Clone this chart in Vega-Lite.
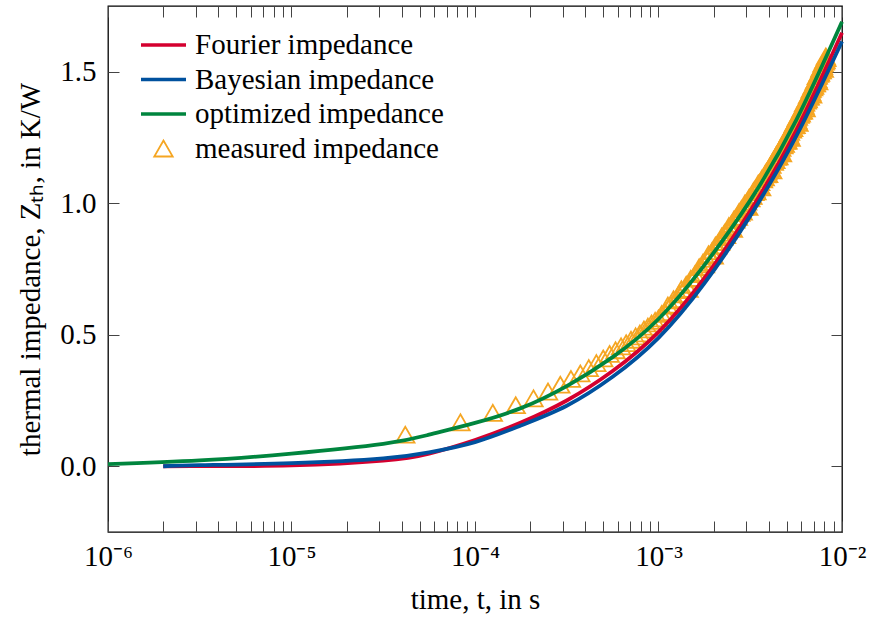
{
  "$schema": "https://vega.github.io/schema/vega-lite/v6.json",
  "width": 734,
  "height": 526,
  "autosize": {"type": "none"},
  "padding": {"left": 108, "top": 6, "right": 29, "bottom": 87},
  "background": "white",
  "config": {
    "view": {"stroke": "#000", "strokeWidth": 1.3},
    "font": "Liberation Serif",
    "legend": {"labelLimit": 500}
  },
  "datasets": {
    "fits": [
      {"t": 2e-6, "z": 0.0, "series": "Fourier impedance"},
      {"t": 3.162e-6, "z": 0.0005, "series": "Fourier impedance"},
      {"t": 1e-5, "z": 0.003, "series": "Fourier impedance"},
      {"t": 3.162e-5, "z": 0.021, "series": "Fourier impedance"},
      {"t": 5.623e-5, "z": 0.048, "series": "Fourier impedance"},
      {"t": 1e-4, "z": 0.1, "series": "Fourier impedance"},
      {"t": 1.778e-4, "z": 0.166, "series": "Fourier impedance"},
      {"t": 3.162e-4, "z": 0.25, "series": "Fourier impedance"},
      {"t": 5.623e-4, "z": 0.362, "series": "Fourier impedance"},
      {"t": 1e-3, "z": 0.51, "series": "Fourier impedance"},
      {"t": 1.778e-3, "z": 0.715, "series": "Fourier impedance"},
      {"t": 3.162e-3, "z": 0.971, "series": "Fourier impedance"},
      {"t": 5.623e-3, "z": 1.276, "series": "Fourier impedance"},
      {"t": 1e-2, "z": 1.648, "series": "Fourier impedance"},
      {"t": 2e-6, "z": 0.0, "series": "Bayesian impedance"},
      {"t": 3.162e-6, "z": 0.004, "series": "Bayesian impedance"},
      {"t": 1e-5, "z": 0.012, "series": "Bayesian impedance"},
      {"t": 3.162e-5, "z": 0.03, "series": "Bayesian impedance"},
      {"t": 5.623e-5, "z": 0.053, "series": "Bayesian impedance"},
      {"t": 1e-4, "z": 0.092, "series": "Bayesian impedance"},
      {"t": 1.778e-4, "z": 0.155, "series": "Bayesian impedance"},
      {"t": 3.162e-4, "z": 0.23, "series": "Bayesian impedance"},
      {"t": 5.623e-4, "z": 0.34, "series": "Bayesian impedance"},
      {"t": 1e-3, "z": 0.488, "series": "Bayesian impedance"},
      {"t": 1.778e-3, "z": 0.695, "series": "Bayesian impedance"},
      {"t": 3.162e-3, "z": 0.952, "series": "Bayesian impedance"},
      {"t": 5.623e-3, "z": 1.254, "series": "Bayesian impedance"},
      {"t": 1e-2, "z": 1.615, "series": "Bayesian impedance"},
      {"t": 1e-6, "z": 0.008, "series": "optimized impedance"},
      {"t": 3.162e-6, "z": 0.022, "series": "optimized impedance"},
      {"t": 1e-5, "z": 0.048, "series": "optimized impedance"},
      {"t": 3.162e-5, "z": 0.085, "series": "optimized impedance"},
      {"t": 5.623e-5, "z": 0.12, "series": "optimized impedance"},
      {"t": 1e-4, "z": 0.165, "series": "optimized impedance"},
      {"t": 1.778e-4, "z": 0.221, "series": "optimized impedance"},
      {"t": 3.162e-4, "z": 0.305, "series": "optimized impedance"},
      {"t": 5.623e-4, "z": 0.415, "series": "optimized impedance"},
      {"t": 1e-3, "z": 0.56, "series": "optimized impedance"},
      {"t": 1.778e-3, "z": 0.765, "series": "optimized impedance"},
      {"t": 3.162e-3, "z": 1.011, "series": "optimized impedance"},
      {"t": 5.623e-3, "z": 1.315, "series": "optimized impedance"},
      {"t": 1e-2, "z": 1.69, "series": "optimized impedance"}
    ],
    "measured": [
      {"t": 0.0417e-3, "z": 0.120}, {"t": 0.0833e-3, "z": 0.167}, {"t": 0.125e-3, "z": 0.203}, {"t": 0.1667e-3, "z": 0.232},
      {"t": 0.2083e-3, "z": 0.258}, {"t": 0.25e-3, "z": 0.284}, {"t": 0.2917e-3, "z": 0.310}, {"t": 0.3333e-3, "z": 0.332},
      {"t": 0.375e-3, "z": 0.353}, {"t": 0.4167e-3, "z": 0.373}, {"t": 0.4583e-3, "z": 0.392}, {"t": 0.5e-3, "z": 0.410},
      {"t": 0.5417e-3, "z": 0.427}, {"t": 0.5833e-3, "z": 0.441}, {"t": 0.625e-3, "z": 0.456}, {"t": 0.6667e-3, "z": 0.468},
      {"t": 0.7083e-3, "z": 0.481}, {"t": 0.75e-3, "z": 0.494}, {"t": 0.7917e-3, "z": 0.505}, {"t": 0.8333e-3, "z": 0.520},
      {"t": 0.875e-3, "z": 0.531}, {"t": 0.9167e-3, "z": 0.543}, {"t": 0.9583e-3, "z": 0.553}, {"t": 1.0e-3, "z": 0.562},
      {"t": 1.0417e-3, "z": 0.579}, {"t": 1.0833e-3, "z": 0.586}, {"t": 1.125e-3, "z": 0.611}, {"t": 1.1667e-3, "z": 0.614},
      {"t": 1.2083e-3, "z": 0.635}, {"t": 1.25e-3, "z": 0.631}, {"t": 1.2917e-3, "z": 0.654}, {"t": 1.3333e-3, "z": 0.673},
      {"t": 1.375e-3, "z": 0.670}, {"t": 1.4167e-3, "z": 0.690}, {"t": 1.4583e-3, "z": 0.674}, {"t": 1.5e-3, "z": 0.713},
      {"t": 1.5417e-3, "z": 0.716}, {"t": 1.5833e-3, "z": 0.731}, {"t": 1.625e-3, "z": 0.735}, {"t": 1.6667e-3, "z": 0.757},
      {"t": 1.7083e-3, "z": 0.757}, {"t": 1.75e-3, "z": 0.775}, {"t": 1.7917e-3, "z": 0.768}, {"t": 1.8333e-3, "z": 0.789},
      {"t": 1.875e-3, "z": 0.806}, {"t": 1.9167e-3, "z": 0.801}, {"t": 1.9583e-3, "z": 0.818}, {"t": 2.0e-3, "z": 0.801},
      {"t": 2.0417e-3, "z": 0.839}, {"t": 2.0833e-3, "z": 0.839}, {"t": 2.125e-3, "z": 0.852}, {"t": 2.1667e-3, "z": 0.853},
      {"t": 2.2083e-3, "z": 0.873}, {"t": 2.25e-3, "z": 0.871}, {"t": 2.2917e-3, "z": 0.887}, {"t": 2.3333e-3, "z": 0.879},
      {"t": 2.375e-3, "z": 0.897}, {"t": 2.4167e-3, "z": 0.913}, {"t": 2.4583e-3, "z": 0.906}, {"t": 2.5e-3, "z": 0.922},
      {"t": 2.5417e-3, "z": 0.903}, {"t": 2.5833e-3, "z": 0.939}, {"t": 2.625e-3, "z": 0.938}, {"t": 2.6667e-3, "z": 0.949},
      {"t": 2.7083e-3, "z": 0.948}, {"t": 2.75e-3, "z": 0.967}, {"t": 2.7917e-3, "z": 0.963}, {"t": 2.8333e-3, "z": 0.978},
      {"t": 2.875e-3, "z": 0.968}, {"t": 2.9167e-3, "z": 0.985}, {"t": 2.9583e-3, "z": 0.999}, {"t": 3.0e-3, "z": 0.991},
      {"t": 3.0417e-3, "z": 1.006}, {"t": 3.0833e-3, "z": 0.986}, {"t": 3.125e-3, "z": 1.022}, {"t": 3.1667e-3, "z": 1.019},
      {"t": 3.2083e-3, "z": 1.029}, {"t": 3.25e-3, "z": 1.028}, {"t": 3.2917e-3, "z": 1.046}, {"t": 3.3333e-3, "z": 1.042},
      {"t": 3.375e-3, "z": 1.055}, {"t": 3.4167e-3, "z": 1.045}, {"t": 3.4583e-3, "z": 1.061}, {"t": 3.5e-3, "z": 1.075},
      {"t": 3.5417e-3, "z": 1.066}, {"t": 3.5833e-3, "z": 1.080}, {"t": 3.625e-3, "z": 1.060}, {"t": 3.6667e-3, "z": 1.094},
      {"t": 3.7083e-3, "z": 1.091}, {"t": 3.75e-3, "z": 1.100}, {"t": 3.7917e-3, "z": 1.098}, {"t": 3.8333e-3, "z": 1.115},
      {"t": 3.875e-3, "z": 1.110}, {"t": 3.9167e-3, "z": 1.123}, {"t": 3.9583e-3, "z": 1.111}, {"t": 4.0e-3, "z": 1.127},
      {"t": 4.0417e-3, "z": 1.140}, {"t": 4.0833e-3, "z": 1.132}, {"t": 4.125e-3, "z": 1.146}, {"t": 4.1667e-3, "z": 1.125},
      {"t": 4.2083e-3, "z": 1.160}, {"t": 4.25e-3, "z": 1.157}, {"t": 4.2917e-3, "z": 1.166}, {"t": 4.3333e-3, "z": 1.164},
      {"t": 4.375e-3, "z": 1.181}, {"t": 4.4167e-3, "z": 1.176}, {"t": 4.4583e-3, "z": 1.189}, {"t": 4.5e-3, "z": 1.178},
      {"t": 4.5417e-3, "z": 1.194}, {"t": 4.5833e-3, "z": 1.206}, {"t": 4.625e-3, "z": 1.197}, {"t": 4.6667e-3, "z": 1.211},
      {"t": 4.7083e-3, "z": 1.190}, {"t": 4.75e-3, "z": 1.223}, {"t": 4.7917e-3, "z": 1.220}, {"t": 4.8333e-3, "z": 1.228},
      {"t": 4.875e-3, "z": 1.226}, {"t": 4.9167e-3, "z": 1.242}, {"t": 4.9583e-3, "z": 1.237}, {"t": 5.0e-3, "z": 1.249},
      {"t": 5.0417e-3, "z": 1.238}, {"t": 5.0833e-3, "z": 1.254}, {"t": 5.125e-3, "z": 1.266}, {"t": 5.1667e-3, "z": 1.257},
      {"t": 5.2083e-3, "z": 1.271}, {"t": 5.25e-3, "z": 1.249}, {"t": 5.2917e-3, "z": 1.283}, {"t": 5.3333e-3, "z": 1.280},
      {"t": 5.375e-3, "z": 1.288}, {"t": 5.4167e-3, "z": 1.286}, {"t": 5.4583e-3, "z": 1.302}, {"t": 5.5e-3, "z": 1.296},
      {"t": 5.5417e-3, "z": 1.309}, {"t": 5.5833e-3, "z": 1.297}, {"t": 5.625e-3, "z": 1.313}, {"t": 5.6667e-3, "z": 1.325},
      {"t": 5.7083e-3, "z": 1.315}, {"t": 5.75e-3, "z": 1.328}, {"t": 5.7917e-3, "z": 1.306}, {"t": 5.8333e-3, "z": 1.340},
      {"t": 5.875e-3, "z": 1.336}, {"t": 5.9167e-3, "z": 1.344}, {"t": 5.9583e-3, "z": 1.341}, {"t": 6.0e-3, "z": 1.357},
      {"t": 6.0417e-3, "z": 1.351}, {"t": 6.0833e-3, "z": 1.364}, {"t": 6.125e-3, "z": 1.352}, {"t": 6.1667e-3, "z": 1.367},
      {"t": 6.2083e-3, "z": 1.380}, {"t": 6.25e-3, "z": 1.370}, {"t": 6.2917e-3, "z": 1.383}, {"t": 6.3333e-3, "z": 1.361},
      {"t": 6.375e-3, "z": 1.394}, {"t": 6.4167e-3, "z": 1.390}, {"t": 6.4583e-3, "z": 1.398}, {"t": 6.5e-3, "z": 1.395},
      {"t": 6.5417e-3, "z": 1.411}, {"t": 6.5833e-3, "z": 1.405}, {"t": 6.625e-3, "z": 1.417}, {"t": 6.6667e-3, "z": 1.405},
      {"t": 6.7083e-3, "z": 1.420}, {"t": 6.75e-3, "z": 1.432}, {"t": 6.7917e-3, "z": 1.422}, {"t": 6.8333e-3, "z": 1.435},
      {"t": 6.875e-3, "z": 1.413}, {"t": 6.9167e-3, "z": 1.446}, {"t": 6.9583e-3, "z": 1.441}, {"t": 7.0e-3, "z": 1.449},
      {"t": 7.0417e-3, "z": 1.446}, {"t": 7.0833e-3, "z": 1.462}, {"t": 7.125e-3, "z": 1.456}, {"t": 7.1667e-3, "z": 1.468},
      {"t": 7.2083e-3, "z": 1.456}, {"t": 7.25e-3, "z": 1.471}, {"t": 7.2917e-3, "z": 1.483}, {"t": 7.3333e-3, "z": 1.472},
      {"t": 7.375e-3, "z": 1.485}, {"t": 7.4167e-3, "z": 1.463}, {"t": 7.4583e-3, "z": 1.496}, {"t": 7.5e-3, "z": 1.492},
      {"t": 7.5417e-3, "z": 1.499}, {"t": 7.5833e-3, "z": 1.496}, {"t": 7.625e-3, "z": 1.512}, {"t": 7.6667e-3, "z": 1.505},
      {"t": 7.7083e-3, "z": 1.517}, {"t": 7.75e-3, "z": 1.505}, {"t": 7.7917e-3, "z": 1.519}, {"t": 7.8333e-3, "z": 1.531},
      {"t": 7.875e-3, "z": 1.521}, {"t": 7.9167e-3, "z": 1.533}, {"t": 7.9583e-3, "z": 1.511}, {"t": 8.0e-3, "z": 1.543},
      {"t": 8.0417e-3, "z": 1.539}, {"t": 8.0833e-3, "z": 1.546}, {"t": 8.125e-3, "z": 1.543}, {"t": 8.1667e-3, "z": 1.558},
      {"t": 8.2083e-3, "z": 1.552}
    ]
  },
  "resolve": {"axis": {"x": "independent", "y": "independent"}},
  "layer": [
    {
      "data": {"name": "measured"},
      "mark": {"type": "point", "filled": false, "opacity": 1},
      "encoding": {
        "x": {
          "field": "t", "type": "quantitative",
          "scale": {"type": "log", "domain": [1e-6, 1e-2], "nice": false},
          "axis": {
            "orient": "bottom",
            "values": [1e-6,2e-6,3e-6,4e-6,5e-6,6e-6,7e-6,8e-6,9e-6,1e-5,2e-5,3e-5,4e-5,5e-5,6e-5,7e-5,8e-5,9e-5,1e-4,2e-4,3e-4,4e-4,5e-4,6e-4,7e-4,8e-4,9e-4,1e-3,2e-3,3e-3,4e-3,5e-3,6e-3,7e-3,8e-3,9e-3,1e-2],
            "labelExpr": "abs(log(datum.value)/LN10 - round(log(datum.value)/LN10)) < 0.01 ? ['10⁻⁶','10⁻⁵','10⁻⁴','10⁻³','10⁻²'][round(log(datum.value)/LN10)+6] : ''",
            "labelFont": "Liberation Serif", "labelFontSize": 29, "labelColor": "#000",
            "labelPadding": 21, "labelFlush": false, "labelOverlap": false, "labelBound": false,
            "ticks": true, "tickSize": -11, "tickColor": "#444", "tickWidth": 1,
            "domain": false, "grid": false,
            "title": "time, t, in s", "titleFont": "Liberation Serif", "titleFontSize": 29,
            "titleFontWeight": "normal", "titleColor": "#000", "titlePadding": 14,
            "encode": {"ticks": {"update": {"y2": {"signal": "abs(log(datum.value)/LN10 - round(log(datum.value)/LN10)) < 0.01 ? -11 : -7"}}}}
          }
        },
        "y": {
          "field": "z", "type": "quantitative",
          "scale": {"domain": [-0.25, 1.75], "nice": false, "zero": false},
          "axis": {
            "orient": "left",
            "values": [0, 0.5, 1, 1.5], "format": ".1f",
            "labelFont": "Liberation Serif", "labelFontSize": 29, "labelColor": "#000",
            "labelPadding": 23, "labelFlush": false, "labelOverlap": false,
            "ticks": true, "tickSize": -11, "tickColor": "#444", "tickWidth": 1,
            "domain": false, "grid": false,
            "title": "thermal impedance, Zₜₕ, in K/W", "titleFont": "Liberation Serif", "titleFontSize": 29,
            "titleFontWeight": "normal", "titleColor": "#000", "titlePadding": 14
          }
        },
        "color": {
          "datum": "measured impedance", "type": "nominal",
          "scale": {"domain": ["Fourier impedance", "Bayesian impedance", "optimized impedance", "measured impedance"], "range": ["#d4002f", "#00519e", "#00853e", "#f5a623"]},
          "legend": {
            "title": null, "orient": "none", "legendX": 31, "legendY": 23,
            "padding": 0, "labelFont": "Liberation Serif", "labelFontSize": 29, "labelColor": "#000",
            "labelOffset": 7, "labelLimit": 500, "symbolSize": 2025,
            "clipHeight": 32, "rowPadding": 2.5
          }
        },
        "shape": {
          "datum": "measured impedance", "type": "nominal",
          "scale": {"domain": ["Fourier impedance", "Bayesian impedance", "optimized impedance", "measured impedance"], "range": ["stroke", "stroke", "stroke", "triangle-up"]}
        },
        "size": {
          "datum": "measured impedance", "type": "nominal",
          "scale": {"type": "ordinal", "domain": ["Fourier impedance", "Bayesian impedance", "optimized impedance", "measured impedance"], "range": [2025, 2025, 2025, 340]}
        },
        "strokeWidth": {
          "datum": "measured impedance", "type": "nominal",
          "scale": {"type": "ordinal", "domain": ["Fourier impedance", "Bayesian impedance", "optimized impedance", "measured impedance"], "range": [3.4, 3.4, 3.4, 1.8]}
        }
      }
    },
    {
      "data": {"name": "fits"},
      "mark": {"type": "line", "strokeWidth": 3.8, "interpolate": "natural"},
      "encoding": {
        "x": {
          "field": "t", "type": "quantitative",
          "axis": {
            "orient": "top",
            "values": [1e-6,2e-6,3e-6,4e-6,5e-6,6e-6,7e-6,8e-6,9e-6,1e-5,2e-5,3e-5,4e-5,5e-5,6e-5,7e-5,8e-5,9e-5,1e-4,2e-4,3e-4,4e-4,5e-4,6e-4,7e-4,8e-4,9e-4,1e-3,2e-3,3e-3,4e-3,5e-3,6e-3,7e-3,8e-3,9e-3,1e-2],
            "labels": false, "title": null, "domain": false, "grid": false,
            "ticks": true, "tickSize": -11, "tickColor": "#444", "tickWidth": 1,
            "encode": {"ticks": {"update": {"y2": {"signal": "abs(log(datum.value)/LN10 - round(log(datum.value)/LN10)) < 0.01 ? 11 : 7"}}}}
          }
        },
        "y": {
          "field": "z", "type": "quantitative",
          "axis": {
            "orient": "right", "values": [0, 0.5, 1, 1.5],
            "labels": false, "title": null, "domain": false, "grid": false,
            "ticks": true, "tickSize": -11, "tickColor": "#444", "tickWidth": 1
          }
        },
        "stroke": {
          "field": "series", "type": "nominal",
          "scale": {"domain": ["Fourier impedance", "Bayesian impedance", "optimized impedance"], "range": ["#d4002f", "#00519e", "#00853e"]},
          "legend": null
        }
      }
    }
  ]
}
